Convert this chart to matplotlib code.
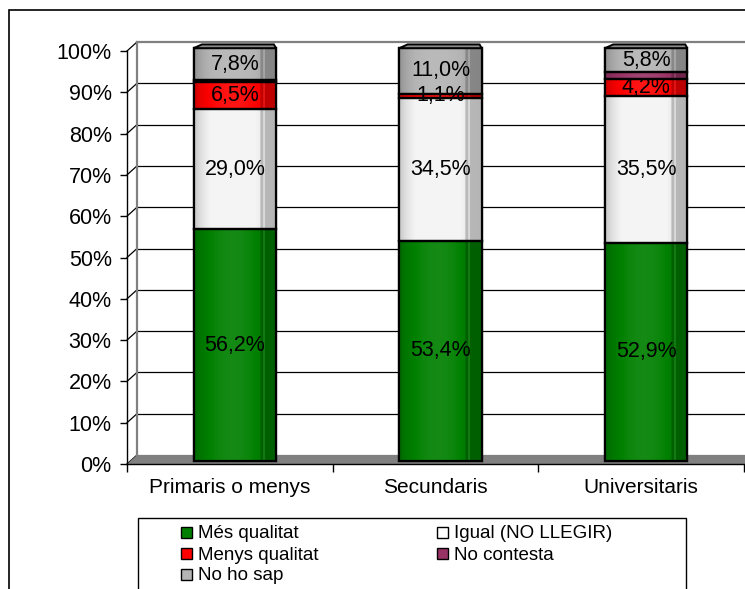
import numpy as np
import matplotlib.pyplot as plt
from matplotlib.patches import Rectangle, Polygon
from matplotlib.colors import to_rgb

plt.rcParams['font.family'] = ['Liberation Sans', 'DejaVu Sans']

# dades
categories = ["Primaris o menys", "Secundaris", "Universitaris"]
series_names = ["Més qualitat", "Igual (NO LLEGIR)", "Menys qualitat", "No contesta", "No ho sap"]
mes_qualitat = [56.2, 53.4, 52.9]
igual = [29.0, 34.5, 35.5]
menys_qualitat = [6.5, 1.1, 4.2]
no_contesta = [0.5, 0.0, 1.6]
no_ho_sap = [7.8, 11.0, 5.8]
series_values = [mes_qualitat, igual, menys_qualitat, no_contesta, no_ho_sap]
series_colors = ["#008000", "#f4f4f4", "#ff0000", "#993366", "#b4b4b4"]
show_labels = [True, True, True, False, True]
yticks = list(range(0, 101, 10))

W, H = 745, 589
fig = plt.figure(figsize=(W / 100, H / 100), dpi=100)


def px(x, y):
    return (x / W, 1 - y / H)


# marc exterior
fig.add_artist(Rectangle(px(9, 600), (W + 20) / W, 590 / H, fill=False,
                         edgecolor="black", linewidth=1.2, transform=fig.transFigure))

x0, y0 = px(127, 464)
x1, y1 = px(744, 51)
ax = fig.add_axes([x0, y0, x1 - x0, y1 - y0])
ax.set_xlim(0, 3)
ax.set_ylim(0, 100)
for s in ax.spines.values():
    s.set_visible(False)
ax.patch.set_alpha(0)

# profunditat 3D
dx = 10 / 617 * 3
dy = 9 / 413 * 100

# terra
ax.add_patch(Polygon([(0, 0), (3.2, 0), (3.2 + dx, dy), (dx, dy)], closed=True,
                     facecolor="#808080", edgecolor="none", clip_on=False, zorder=1))
# paret del fons i línies de quadrícula
for v in yticks:
    col = "#808080" if v in (0, 100) else "black"
    lw = 1.6 if v == 100 else 0.9
    ax.plot([dx, 3.2], [v + dy, v + dy], color=col, lw=lw, clip_on=False, zorder=0.5)
    ax.plot([0, dx], [v, v + dy], color="black", lw=0.9, clip_on=False, zorder=0.5)
ax.plot([dx, dx], [dy, 100 + dy], color="#808080", lw=1.6, clip_on=False, zorder=0.6)

# eixos
ax.plot([0, 0], [0, 100], color="black", lw=1.0, clip_on=False, zorder=6)
ax.plot([0, 3], [0, 0], color="black", lw=1.0, clip_on=False, zorder=6)
ax.set_yticks(yticks)
ax.set_yticklabels([f"{v}%" for v in yticks], fontsize=15.5)
ax.set_xticks([0, 1, 2, 3])
ax.set_xticklabels([])
ax.set_xticks([0.5, 1.5, 2.5], minor=True)
ax.set_xticklabels(categories, minor=True, fontsize=15)
ax.tick_params(axis="x", which="minor", length=0, pad=10)
ax.tick_params(axis="x", which="major", length=6, width=1.0, direction="out")
ax.tick_params(axis="y", length=5, width=1.0, pad=6)

# ombrejat del cilindre
t = np.linspace(0, 1, 80)
shade = 0.78 + 0.3 * np.sin(np.clip(t / 0.8, 0, 1) * np.pi * 0.85) ** 0.6
shade[t > 0.8] = 0.74 + 0.1 * (1 - t[t > 0.8])
shade[(t > 0.84) & (t < 0.86)] = 1.15


def shaded(color):
    base = np.array(to_rgb(color))
    img = np.zeros((1, len(t), 3))
    for i, f in enumerate(shade):
        if f <= 1:
            img[0, i] = base * f
        else:
            img[0, i] = base + (1 - base) * (f - 1)
    return np.clip(img, 0, 1)


bw = 0.4
centers = np.arange(3) + 0.5 + dx / 2
bottom = np.full(3, dy / 2 - 0.4)
for vals, col, lab in zip(series_values, series_colors, show_labels):
    bars = ax.bar(centers, vals, bw, bottom=bottom, color=col, edgecolor="black",
                  linewidth=1.6, zorder=3, clip_on=False)
    img = shaded(col)
    for b, v in zip(bars, vals):
        if v <= 0:
            continue
        bx, by = b.get_x(), b.get_y()
        ax.imshow(img, extent=[bx, bx + bw, by, by + v], aspect="auto",
                  zorder=3.5, interpolation="bilinear", clip_on=False)
        ax.add_patch(Rectangle((bx, by), bw, v, fill=False, edgecolor="black",
                               linewidth=1.6, zorder=4, clip_on=False))
        if lab:
            ax.text(bx + bw / 2, by + v / 2, f"{v:.1f}%".replace(".", ","),
                    ha="center", va="center", fontsize=15.5, zorder=7)
    bottom = bottom + np.array(vals)

# tapes superiors
for c, top in zip(centers, bottom):
    l, r = c - bw / 2, c + bw / 2
    ax.add_patch(Polygon([(l, top), (l + 0.04, top + 0.9), (r - 0.01, top + 0.9), (r, top)],
                         closed=True, facecolor="#8c8c8c", edgecolor="black",
                         linewidth=1.4, zorder=4.5, clip_on=False))

# llegenda
fig.add_artist(Rectangle(px(138, 600), (686 - 138) / W, 82 / H, fill=False,
                         edgecolor="black", linewidth=1.0, transform=fig.transFigure))
leg_pos = [(181, 533), (437, 533), (181, 554), (437, 554), (181, 575)]
for (lx, ly), name, col in zip(leg_pos, series_names, series_colors):
    fc = "white" if name.startswith("Igual") else col
    fig.add_artist(Rectangle(px(lx, ly + 5), 11 / W, 11 / H, facecolor=fc,
                             edgecolor="black", linewidth=1.0, transform=fig.transFigure))
    fig.text(*px(lx + 17, ly + 1), name, fontsize=13.5, va="center", ha="left")

fig.savefig("out.png", dpi=100)
